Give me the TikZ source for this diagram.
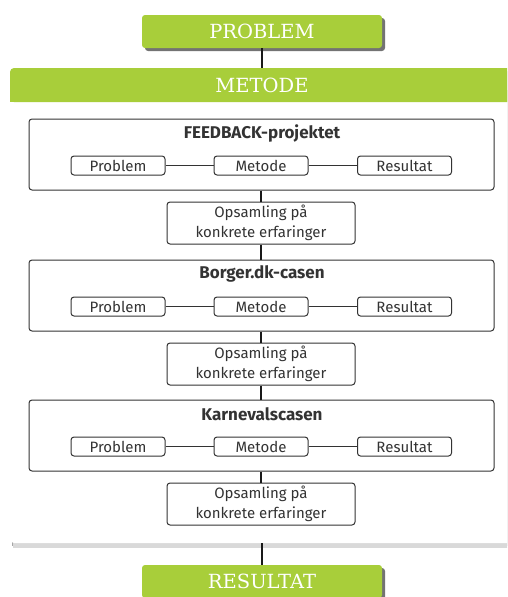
\documentclass[tikz,border=0pt]{standalone}
\usepackage{fontspec}
\setmainfont{Fira Sans}
\newfontfamily\headfont{DejaVu Serif}
\usetikzlibrary{positioning}
\definecolor{lime}{HTML}{A8CE3A}
\definecolor{txt}{HTML}{333333}
\tikzset{
  greenbox/.style={fill=lime, rounded corners=3pt, minimum width=240pt, minimum height=33pt, inner sep=0pt,
    text=white, font=\headfont\fontsize{19.5}{19.5}\selectfont},
  shadowbox/.style={fill=black!55, rounded corners=3pt, minimum width=240pt, minimum height=33pt, inner sep=0pt},
  casebox/.style={draw=txt, line width=1pt, rounded corners=3pt, minimum width=465pt, minimum height=71pt, inner sep=0pt},
  smallbox/.style={draw=txt, line width=1pt, rounded corners=3pt, minimum width=94pt, minimum height=19pt, inner sep=0pt,
    text=txt, font=\fontsize{15}{15}\selectfont},
  opsbox/.style={draw=txt, line width=1pt, rounded corners=3pt, minimum width=188pt, minimum height=42pt, inner sep=0pt,
    text=txt, align=center, font=\fontsize{15}{20}\selectfont},
  casetitle/.style={text=txt, font=\bfseries\fontsize{17}{17}\selectfont, inner sep=0pt},
  conn/.style={draw=black!90, line width=1.6pt},
}
\begin{document}
\begin{tikzpicture}[x=1pt,y=-1pt]
\useasboundingbox (0,0) rectangle (507,597);
\clip (0,0) rectangle (507,597);
\coordinate (ptop) at (262,68);
\coordinate (pbot) at (262,543);
% panel shadow and panel
\fill[black!35] (12,71) rectangle (530,546);
\fill[black!15] (13,72) rectangle (530,548);
\fill[white, rounded corners=4pt] (10,68) rectangle (530,543);
\fill[lime, rounded corners=4pt] (10,68) rectangle (530,102);
\fill[lime] (10,90) rectangle (530,102);
\node[text=white, font=\headfont\fontsize{19.5}{19.5}\selectfont, inner sep=0pt] (metode) at (262,85) {METODE};
% PROBLEM
\node[shadowbox] at (265,34.5) {};
\node[greenbox] (problem) at (262,31.5) {PROBLEM};
% RESULTAT
\node[shadowbox] at (265,584.5) {};
\node[greenbox] (resultat) at (262,581.5) {RESULTAT};
\draw[conn] (problem.south) -- (ptop);
\draw[conn] (pbot) -- (resultat.north);
% cases
\foreach \i/\top/\name in {1/119/FEEDBACK-projektet, 2/260/Borger.dk-casen, 3/400/Karnevalscasen}{
  \node[casebox] (case\i) at (261.5,\top+35.5) {};
  \node[casetitle] (title\i) at (262,\top+14) {\name};
  \node[smallbox] (prob\i) at (118,\top+46.5) {Problem};
  \node[smallbox] (met\i) at (261,\top+46.5) {Metode};
  \node[smallbox] (res\i) at (404.5,\top+46.5) {Resultat};
  \draw[line width=1.4pt, txt] (prob\i) -- (met\i);
  \draw[line width=1.4pt, txt] (met\i) -- (res\i);
  \node[opsbox] (ops\i) at (261,\top+104) {Opsamling på\\konkrete erfaringer};
  \draw[conn] (case\i.south -| ops\i.north) -- (ops\i.north);
}
\draw[conn] (ops1.south) -- (ops1.south |- case2.north);
\draw[conn] (ops2.south) -- (ops2.south |- case3.north);
\end{tikzpicture}
\end{document}
